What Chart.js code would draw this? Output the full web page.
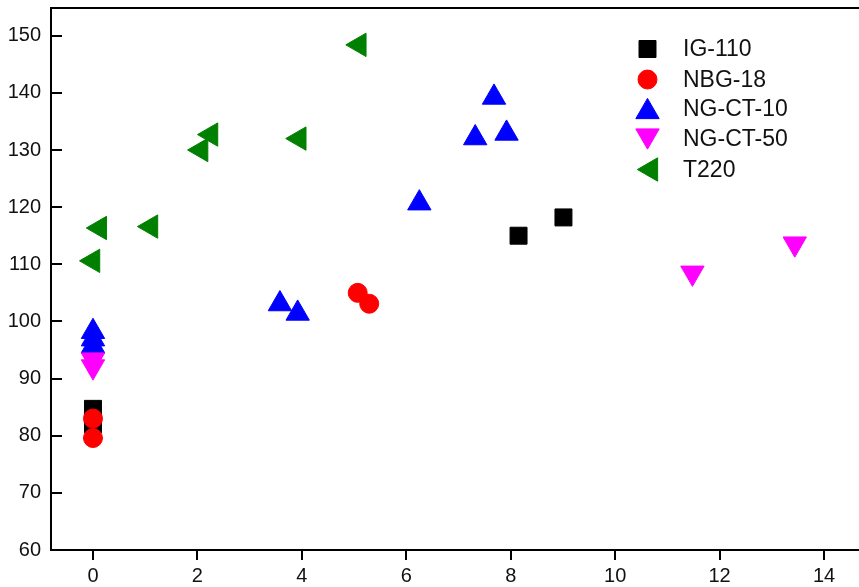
<!DOCTYPE html>
<html>
<head>
<meta charset="utf-8">
<script src="https://cdn.jsdelivr.net/npm/chart.js"></script>
<style>
    html, body { margin: 0; padding: 0; background: #fff; overflow: hidden; }
    canvas { display: block; }
</style>
</head>
<body>
<canvas id="scatterChart" width="859" height="587"></canvas>
<script>
// series
const seriesNames = ['IG-110', 'NBG-18', 'NG-CT-10', 'NG-CT-50', 'T220'];

const igX = [0, 0, 8.15, 9.01];
const igY = [84.7, 82.0, 115.0, 118.2];

const nbgX = [0, 0, 5.07, 5.29];
const nbgY = [83.0, 79.6, 105.0, 103.1];

const ct10X = [0, 0, 0, 3.58, 3.92, 6.25, 7.32, 7.68, 7.92];
const ct10Y = [98.2, 96.9, 95.7, 103.05, 101.4, 120.7, 132.1, 139.2, 132.9];

const ct50X = [0, 0, 11.48, 13.44];
const ct50Y = [93.3, 92.1, 108.5, 113.6];

const t220X = [0, 0.13, 1.11, 2.07, 2.26, 3.95, 5.1];
const t220Y = [110.6, 116.35, 116.6, 130.0, 132.7, 132.0, 148.4];

const xTicks = [0, 2, 4, 6, 8, 10, 12, 14];
const yTicks = [60, 70, 80, 90, 100, 110, 120, 130, 140, 150];

const FONT = '"Liberation Sans", Arial, sans-serif';

const styles = [
    { color: '#000000', pointStyle: 'rect', rotation: 0, radius: 12 },
    { color: '#ff0000', pointStyle: 'circle', rotation: 0, radius: 9.5 },
    { color: '#0000ff', pointStyle: 'triangle', rotation: 0, radius: 13.5 },
    { color: '#ff00ff', pointStyle: 'triangle', rotation: 180, radius: 13.5 },
    { color: '#008000', pointStyle: 'triangle', rotation: 270, radius: 13.5 }
];

const xs = [igX, nbgX, ct10X, ct50X, t220X];
const ys = [igY, nbgY, ct10Y, ct50Y, t220Y];

function toPoints(xArr, yArr) {
    return xArr.map((x, i) => ({ x: x, y: yArr[i] }));
}

const datasets = seriesNames.map((name, i) => ({
    label: name,
    data: toPoints(xs[i], ys[i]),
    order: seriesNames.length - i, // later series sit on top
    pointStyle: styles[i].pointStyle,
    rotation: styles[i].rotation,
    pointRadius: styles[i].radius,
    pointHoverRadius: styles[i].radius,
    pointBorderWidth: 1,
    backgroundColor: styles[i].color,
    borderColor: styles[i].color
}));

function noPadding(scale) {
    scale.paddingTop = 0;
    scale.paddingBottom = 0;
    scale.paddingLeft = 0;
    scale.paddingRight = 0;
}

// ticks (y inward, x outward), top frame line and the legend
const framePlugin = {
    id: 'frame',
    afterDraw(chart) {
        const ctx = chart.ctx;
        const area = chart.chartArea;
        const xs_ = chart.scales.x;
        const ys_ = chart.scales.y;
        ctx.save();
        ctx.strokeStyle = '#000';
        ctx.lineWidth = 2;
        ctx.beginPath();
        ctx.moveTo(area.left - 1, area.top);
        ctx.lineTo(area.right, area.top);
        yTicks.forEach(v => {
            const py = Math.round(ys_.getPixelForValue(v));
            ctx.moveTo(area.left, py);
            ctx.lineTo(area.left + 11, py);
        });
        xTicks.forEach(v => {
            const px = Math.round(xs_.getPixelForValue(v));
            ctx.moveTo(px, area.bottom);
            ctx.lineTo(px, area.bottom + 10);
        });
        ctx.stroke();

        // legend
        const markerX = 647.5;
        const textX = 683;
        const rowY = [49, 79.5, 108.5, 139, 169.5];
        ctx.font = '23px ' + FONT;
        ctx.textBaseline = 'middle';
        ctx.textAlign = 'left';
        seriesNames.forEach((name, i) => {
            const s = styles[i];
            let cy = rowY[i];
            let cx = markerX;
            if (s.pointStyle === 'triangle' && s.rotation === 0) cy += s.radius / 4;
            if (s.pointStyle === 'triangle' && s.rotation === 180) cy -= s.radius / 4;
            if (s.pointStyle === 'triangle' && s.rotation === 270) cx += s.radius / 4;
            ctx.fillStyle = s.color;
            ctx.strokeStyle = s.color;
            ctx.lineWidth = 1;
            Chart.helpers.drawPoint(ctx, {
                pointStyle: s.pointStyle,
                rotation: s.rotation,
                radius: s.radius,
                borderWidth: 1
            }, cx, cy);
            ctx.fillStyle = '#111';
            ctx.fillText(name, textX, rowY[i] + 1);
        });
        ctx.restore();
    }
};

new Chart(document.getElementById('scatterChart'), {
    type: 'scatter',
    data: { datasets: datasets },
    options: {
        responsive: false,
        animation: false,
        devicePixelRatio: 1,
        layout: { autoPadding: false, padding: { top: 8, right: 0, left: 0, bottom: 0 } },
        plugins: {
            legend: { display: false },
            tooltip: { enabled: false }
        },
        scales: {
            x: {
                type: 'linear',
                min: -0.804,
                max: 14.67,
                afterFit: scale => { scale.height = 37; noPadding(scale); },
                afterBuildTicks: scale => { scale.ticks = xTicks.map(v => ({ value: v })); },
                grid: { display: false, drawTicks: false },
                border: { display: true, color: '#000', width: 2 },
                ticks: {
                    padding: 14,
                    color: '#111',
                    font: { family: FONT, size: 20 },
                    maxRotation: 0
                }
            },
            y: {
                type: 'linear',
                min: 60,
                max: 154.85,
                afterFit: scale => { scale.width = 51; noPadding(scale); },
                afterBuildTicks: scale => { scale.ticks = yTicks.map(v => ({ value: v })); },
                grid: { display: false, drawTicks: false },
                border: { display: true, color: '#000', width: 2 },
                ticks: {
                    padding: 10,
                    color: '#111',
                    font: { family: FONT, size: 20 }
                }
            }
        }
    },
    plugins: [framePlugin]
});
</script>
</body>
</html>
